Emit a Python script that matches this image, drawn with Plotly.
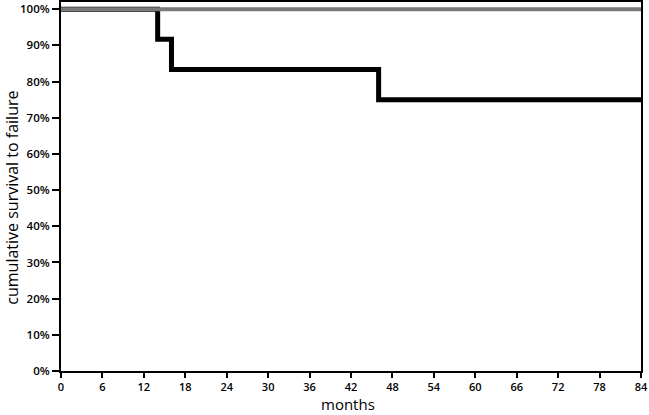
import plotly.graph_objects as go

months = [0, 14, 16, 46, 84]
survival = [100, 91.67, 83.33, 75, 75]
ref_months = [0, 84]
ref_survival = [100, 100]
x_ticks = list(range(0, 85, 6))
y_ticks = list(range(0, 101, 10))
y_labels = [f"{v}%" for v in y_ticks]

fig = go.Figure()
fig.add_trace(go.Scatter(x=months, y=survival, mode="lines", line=dict(shape="hv", color="black", width=5), showlegend=False))
fig.add_trace(go.Scatter(x=ref_months, y=ref_survival, mode="lines", line=dict(color="#7a7a7a", width=4), showlegend=False))

fig.update_layout(
    width=649, height=415,
    margin=dict(l=61, r=8, t=2, b=44, autoexpand=False),
    paper_bgcolor="white", plot_bgcolor="white",
    font=dict(family="Open Sans, Liberation Sans, sans-serif", color="black"),
)
fig.update_xaxes(
    range=[0, 84], tickvals=x_ticks, ticks="outside", ticklen=5, tickwidth=2, tickcolor="black",
    showline=True, linecolor="black", linewidth=2, mirror=True, showgrid=False, zeroline=False,
    automargin=False, tickfont=dict(size=11, weight=600),
)
fig.update_yaxes(
    range=[0, 102], tickvals=y_ticks, ticktext=y_labels, ticks="outside", ticklen=7, tickwidth=2, tickcolor="black",
    showline=True, linecolor="black", linewidth=2, mirror=True, showgrid=False, zeroline=False,
    automargin=False, tickfont=dict(size=11.5, weight=600),
)
fig.add_annotation(text="months", xref="paper", yref="paper", x=0.494, y=-0.119, yanchor="bottom",
                   borderpad=0, showarrow=False, font=dict(size=15))
fig.add_annotation(text="cumulative survival to failure", xref="paper", yref="paper", x=-0.086, y=0.47,
                   xanchor="center", yanchor="middle", textangle=-90, borderpad=0, showarrow=False,
                   font=dict(size=16))
fig.write_html("out.html", config={"displayModeBar": False},
               post_script="document.body.style.margin='0';document.body.style.overflow='hidden';")
